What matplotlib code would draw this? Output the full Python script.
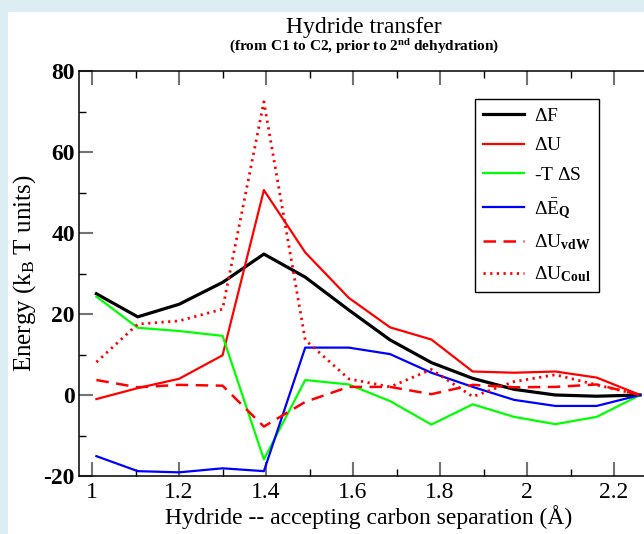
import matplotlib
matplotlib.use("Agg")
import matplotlib.pyplot as plt
from matplotlib.patches import Rectangle
from matplotlib.ticker import MultipleLocator

plt.rcParams['font.family'] = ['Liberation Serif', 'DejaVu Serif']
plt.rcParams['mathtext.fontset'] = 'custom'
plt.rcParams['mathtext.rm'] = 'Liberation Serif'
plt.rcParams['mathtext.it'] = 'Liberation Serif:italic'
plt.rcParams['mathtext.bf'] = 'Liberation Serif:bold'
plt.rcParams['axes.unicode_minus'] = False

# данные
separation = [1.01, 1.105, 1.2, 1.3, 1.395, 1.49, 1.59, 1.685, 1.78, 1.875, 1.97, 2.065, 2.16, 2.26]
dF = [25.0, 19.3, 22.4, 27.8, 34.8, 29.1, 21.0, 13.6, 8.0, 4.1, 1.4, 0.0, -0.3, 0.0]
dU = [-1.0, 1.7, 4.0, 9.8, 50.6, 35.2, 24.0, 16.7, 13.7, 5.8, 5.5, 5.8, 4.3, 0.0]
minus_TdS = [24.3, 16.6, 15.8, 14.6, -15.9, 3.7, 2.6, -1.5, -7.3, -2.3, -5.4, -7.2, -5.4, 0.0]
dEQ = [-15.1, -18.8, -19.1, -18.1, -18.8, 11.7, 11.7, 10.1, 5.5, 2.0, -1.2, -2.7, -2.7, 0.0]
dU_vdw = [3.7, 1.9, 2.5, 2.3, -7.8, -1.7, 2.0, 2.0, 0.2, 2.5, 1.9, 2.0, 2.6, 0.0]
dU_coul = [8.1, 17.5, 18.3, 21.2, 72.4, 13.6, 4.0, 2.0, 6.3, -0.4, 3.3, 5.0, 2.5, 0.0]

labels = [r'$\Delta$F', r'$\Delta$U', r'-T $\Delta$S',
          r'$\Delta\bar{\mathrm{E}}_{\mathbf{Q}}$',
          r'$\Delta\mathrm{U}_{\mathbf{vdW}}$',
          r'$\Delta\mathrm{U}_{\mathbf{Coul}}$']


def main():
    W, H = 644, 534
    fig = plt.figure(figsize=(W / 100, H / 100), dpi=100)
    fig.patch.set_facecolor('#dcedf4')
    # белая подложка под графиком
    fig.patches.append(Rectangle((8 / W, 0), 1, 1 - 12 / H, transform=fig.transFigure,
                                 facecolor='white', edgecolor='none', zorder=-10))

    left, top, bottom = 79 / W, 1 - 71 / H, 1 - 476 / H
    width = 578.6 / W
    ax = fig.add_axes([left, bottom, width, top - bottom])
    ax.set_facecolor('white')

    ax.plot(separation, dF, color='black', lw=2.3, label=labels[0])
    ax.plot(separation, dU, color='#ff0000', lw=1.6, label=labels[1])
    ax.plot(separation, minus_TdS, color='#00ff00', lw=1.6, label=labels[2])
    ax.plot(separation, dEQ, color='#0000ff', lw=1.6, label=labels[3])
    ax.plot(separation, dU_vdw, color='#ff0000', lw=1.8, dashes=(5, 3), label=labels[4])
    ax.plot(separation, dU_coul, color='#ff0000', lw=2.0, linestyle=(0, (0.8, 1.6)), label=labels[5])

    ax.set_xlim(0.97, 2.3)
    ax.set_ylim(-20, 80)
    ax.xaxis.set_major_locator(MultipleLocator(0.2))
    ax.xaxis.set_minor_locator(MultipleLocator(0.1))
    ax.yaxis.set_major_locator(MultipleLocator(20))
    ax.yaxis.set_minor_locator(MultipleLocator(10))
    ax.tick_params(which='both', direction='in', top=True, right=True)
    ax.tick_params(which='major', length=10, width=1.5, color='0.45')
    ax.tick_params(which='minor', length=5, width=1.0, color='black')
    ax.tick_params(axis='x', labelsize=17, pad=4)
    ax.tick_params(axis='y', labelsize=17, pad=3)
    ax.set_xticks([1, 1.2, 1.4, 1.6, 1.8, 2, 2.2])
    ax.set_xticklabels(['1', '1.2', '1.4', '1.6', '1.8', '2', '2.2'])
    for t in ax.get_yticklabels():
        t.set_fontweight('bold')
    for s in ax.spines.values():
        s.set_linewidth(1.1)

    ax.set_xlabel('Hydride -- accepting carbon separation (Å)', fontsize=17, labelpad=2)
    ax.set_ylabel(r'Energy (k$_\mathrm{B}$ T units)', fontsize=18, labelpad=4)

    fig.text(364 / W, 1 - 27 / H, 'Hydride transfer', fontsize=17,
             ha='center', va='center')
    fig.text(364 / W, 1 - 47 / H,
             r'(from C1 to C2, prior to 2$^{\mathbf{nd}}$ dehydration)',
             fontsize=11, fontweight='bold', ha='center', va='center')

    leg = ax.legend(loc='upper left', bbox_to_anchor=(475 / W, 1 - 99 / H),
                    bbox_transform=fig.transFigure, borderaxespad=0,
                    fancybox=False, framealpha=1, edgecolor='black',
                    fontsize=14, handlelength=2.1, handletextpad=0.5,
                    labelspacing=0.62, borderpad=0.42)
    leg.get_frame().set_linewidth(1.0)

    plt.savefig('out.png', dpi=100, facecolor=fig.get_facecolor())


if __name__ == '__main__':
    main()
